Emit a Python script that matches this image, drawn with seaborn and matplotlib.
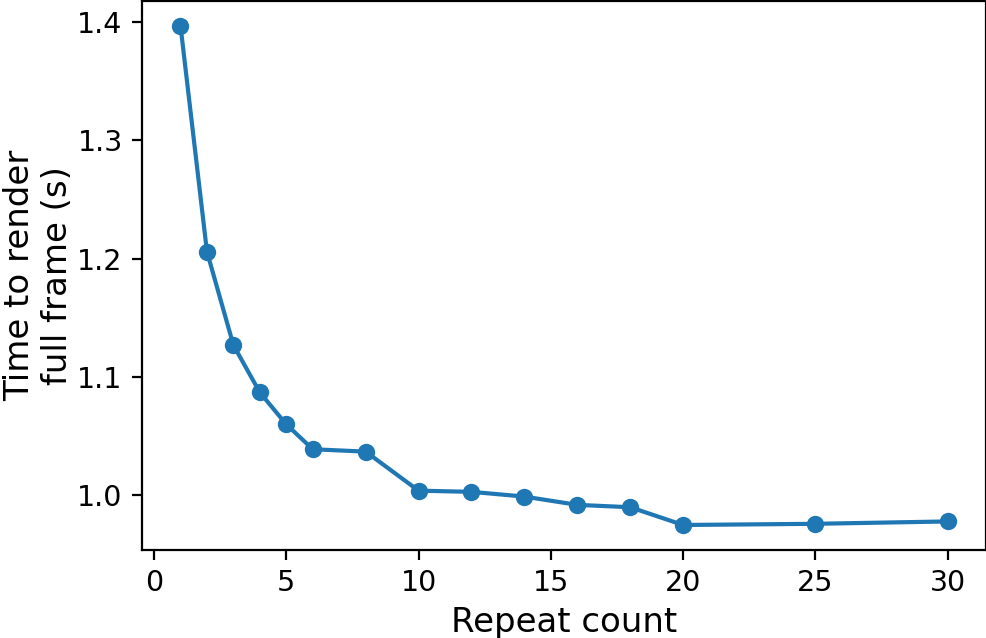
import numpy as np
import pandas as pd
import seaborn as sns
import matplotlib.pyplot as plt

# Repeat count vs. time to render a full frame
repeat_count = [1, 2, 3, 4, 5, 6, 8, 10, 12, 14, 16, 18, 20, 25, 30]
render_time = [1.397, 1.206, 1.127, 1.087, 1.060, 1.039, 1.037, 1.004,
               1.003, 0.999, 0.992, 0.990, 0.975, 0.976, 0.978]

df = pd.DataFrame({"repeat": repeat_count, "time": render_time})

plt.rcParams["font.family"] = ["DejaVu Sans"]
fig, ax = plt.subplots(figsize=(9.87, 6.38), dpi=100)
fig.subplots_adjust(left=0.144, right=0.999, bottom=0.138, top=0.999)

sns.lineplot(data=df, x="repeat", y="time", marker="o", color="#1f77b4",
             linewidth=3, markersize=12.5, markeredgewidth=0, ax=ax)

ax.set_xticks([0, 5, 10, 15, 20, 25, 30])
ax.set_yticks([1.0, 1.1, 1.2, 1.3, 1.4])
ax.set_xlabel("Repeat count", fontsize=24.5, labelpad=6)
ax.set_ylabel("Time to render\nfull frame (s)", fontsize=24.5, labelpad=2)
ax.tick_params(labelsize=20.5, length=7, width=1.6, pad=7)
for s in ax.spines.values():
    s.set_linewidth(1.6)

fig.savefig("out.png", dpi=100)
